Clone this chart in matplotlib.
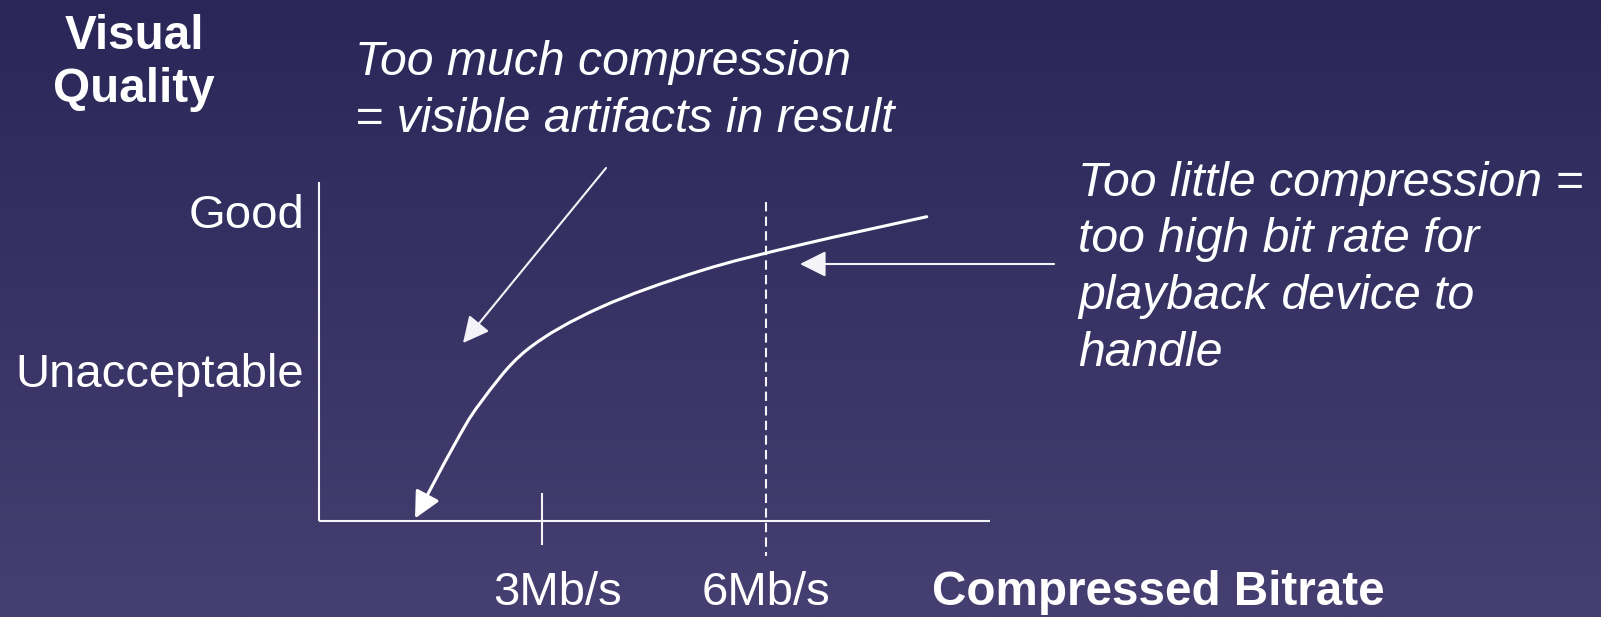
import numpy as np
import matplotlib
matplotlib.use("Agg")
import matplotlib.pyplot as plt
from matplotlib.colors import LinearSegmentedColormap
from matplotlib.path import Path
from matplotlib.patches import FancyArrowPatch

# ---- data (x in Mb/s, y in quality units: 0 = axis, ~1 = Unacceptable, ~2 = Good)
curve_x = [8.153, 6.454, 5.114, 3.774, 2.791, 2.165, 1.807, 1.294]
curve_y = [1.963, 1.781, 1.613, 1.377, 1.103, 0.759, 0.479, 0.017]
x_ticks = [3, 6]
x_tick_labels = ["3Mb/s", "6Mb/s"]
y_levels = ["Good", "Unacceptable"]
x_axis_max = 9.0
y_axis_max = 2.187

# pixel <-> data mapping of the slide (origin at 318.5 px, 74.6 px per Mb/s, 155 px per quality unit)
W, H = 1601, 617
X0, SX = 318.5, 74.6
Y0, SY = 521.0, 155.0

fig = plt.figure(figsize=(W / 100, H / 100), dpi=100)
ax = fig.add_axes([0, 0, 1, 1])
xlim = ((0 - X0) / SX, (W - X0) / SX)
ylim = ((Y0 - H) / SY, Y0 / SY)
ax.axis("off")

def px(xp, yp):
    return ((xp - X0) / SX, (Y0 - yp) / SY)

# background gradient
cmap = LinearSegmentedColormap.from_list("bg", ["#2a2758", "#463f71"])
grad = np.linspace(0, 1, 256).reshape(-1, 1)
ax.imshow(grad, cmap=cmap, aspect="auto", extent=[xlim[0], xlim[1], ylim[0], ylim[1]],
          origin="upper", zorder=0)
ax.set_xlim(*xlim)
ax.set_ylim(*ylim)

lc = "#f4f4f8"
# axes lines
ax.plot([0, 0], [0, y_axis_max], color=lc, lw=1.5, zorder=2, solid_capstyle="butt")
ax.plot([0, x_axis_max], [0, 0], color=lc, lw=1.5, zorder=2, solid_capstyle="butt")
# 3 Mb/s tick
ax.plot([x_ticks[0], x_ticks[0]], [0.174, -0.148], color=lc, lw=1.5, zorder=2)
# 6 Mb/s dashed line
ax.plot([x_ticks[1], x_ticks[1]], [2.058, -0.226], color=lc, lw=1.5, ls=(0, (4.5, 2.5)), zorder=2)

# smooth curve through the read points (Catmull-Rom rendered as cubic Bezier path)
P = np.column_stack([np.array(curve_x) * SX, np.array(curve_y) * SY])
verts = [P[0]]
codes = [Path.MOVETO]
n = len(P)
for i in range(n - 1):
    p0 = P[i - 1] if i > 0 else P[i]
    p1, p2 = P[i], P[i + 1]
    p3 = P[i + 2] if i + 2 < n else P[i + 1]
    c1 = p1 + (p2 - p0) / 6.0
    c2 = p2 - (p3 - p1) / 6.0
    verts += [c1, c2, p2]
    codes += [Path.CURVE4] * 3
verts = np.array(verts)
verts[:, 0] /= SX
verts[:, 1] /= SY
ax.add_patch(FancyArrowPatch(path=Path(verts, codes), arrowstyle="-|>,head_length=16,head_width=8",
                             color="white", lw=2.2, zorder=3, mutation_scale=1,
                             joinstyle="round", capstyle="round"))

# annotation arrows
ax.annotate("", xy=px(463, 343), xytext=px(606, 168),
            arrowprops=dict(arrowstyle="-|>,head_length=1.0,head_width=0.5", color=lc,
                            lw=1.5, shrinkA=0, shrinkB=0, mutation_scale=16), zorder=4)
ax.annotate("", xy=px(800, 264), xytext=px(1054, 264),
            arrowprops=dict(arrowstyle="-|>,head_length=1.0,head_width=0.5", color=lc,
                            lw=1.5, shrinkA=0, shrinkB=0, mutation_scale=16), zorder=4)

font = "Liberation Sans"
fs = 34
fsb = 34.3
fsi = 34.7
tc = "white"

# y axis title
ax.text(*px(134, 49), "Visual", ha="center", va="baseline", fontsize=fsb, fontweight="bold", color=tc, family=font)
ax.text(*px(134, 102), "Quality", ha="center", va="baseline", fontsize=fsb, fontweight="bold", color=tc, family=font)
# y levels
ax.text(*px(304, 228), y_levels[0], ha="right", va="baseline", fontsize=fs, color=tc, family=font)
ax.text(*px(304, 387), y_levels[1], ha="right", va="baseline", fontsize=fs, color=tc, family=font)
# x tick labels
for xv, lab in zip(x_ticks, x_tick_labels):
    ax.text(xv + (0.2 if xv == 3 else 0.0), px(0, 605)[1], lab, ha="center", va="baseline", fontsize=fs, color=tc, family=font)
ax.text(*px(932, 605), "Compressed Bitrate", ha="left", va="baseline", fontsize=fsb, fontweight="bold", color=tc, family=font)

# annotation texts
left_lines = ["Too much compression", "= visible artifacts in result"]
for i, s in enumerate(left_lines):
    ax.text(*px(355, 75 + 57 * i), s, ha="left", va="baseline", fontsize=fsi, style="italic", color=tc, family=font)
right_lines = ["Too little compression =", "too high bit rate for", "playback device to", "handle"]
for i, s in enumerate(right_lines):
    ax.text(*px(1078, 196 + 56.5 * i), s, ha="left", va="baseline", fontsize=fsi, style="italic", color=tc, family=font)

fig.savefig("out.png", dpi=100)
